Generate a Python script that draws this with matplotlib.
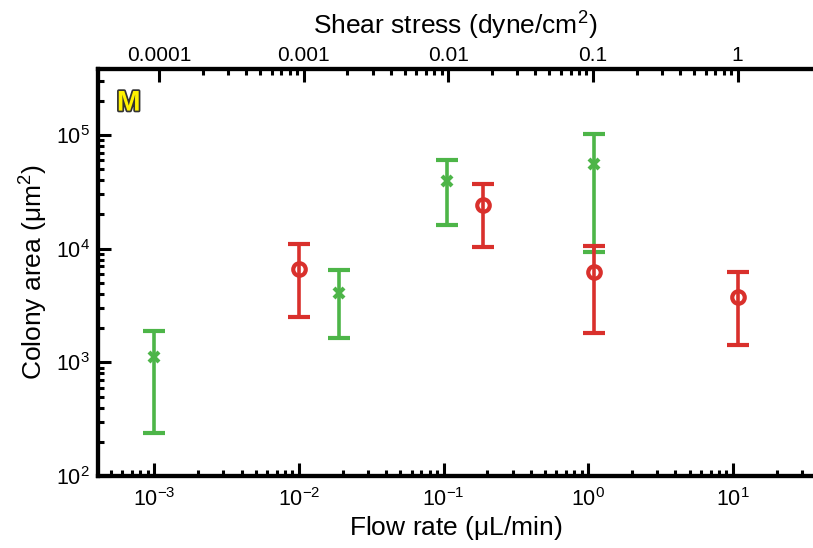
import numpy as np
import matplotlib
matplotlib.use("Agg")
import matplotlib.pyplot as plt
import matplotlib.patheffects as pe
from matplotlib.ticker import FixedLocator, NullFormatter, LogLocator

plt.rcParams['font.family'] = ['Liberation Sans', 'DejaVu Sans']

# green series (crosses)
green_flow = [1.0e-3, 0.019, 0.106, 1.09]
green_area = [1115, 4080, 39300, 55500]
green_low = [239, 1640, 16100, 9340]
green_high = [1884, 6470, 60100, 102000]

# red series (circles)
red_flow = [1.0e-2, 0.188, 1.09, 10.9]
red_area = [6610, 24200, 6220, 3750]
red_low = [2500, 10300, 1810, 1420]
red_high = [11000, 37000, 10550, 6220]

shear_per_flow = 0.093
shear_ticks = [1e-4, 1e-3, 1e-2, 1e-1, 1]
shear_labels = ["0.0001", "0.001", "0.01", "0.1", "1"]
flow_ticks = [1e-3, 1e-2, 1e-1, 1, 10]
flow_labels = [r"$\mathregular{10^{-3}}$", r"$\mathregular{10^{-2}}$",
               r"$\mathregular{10^{-1}}$", r"$\mathregular{10^{0}}$",
               r"$\mathregular{10^{1}}$"]
area_ticks = [1e2, 1e3, 1e4, 1e5]
area_labels = [r"$\mathregular{10^{2}}$", r"$\mathregular{10^{3}}$",
               r"$\mathregular{10^{4}}$", r"$\mathregular{10^{5}}$"]

green = '#4DB548'
red = '#D9302C'

fig = plt.figure(figsize=(8.13, 5.48), dpi=100)
ax = fig.add_axes([98 / 813, 1 - 476 / 548, 1 - 98 / 813, (476 - 69) / 548])

def draw(xs, ys, lo, hi, color, marker, ms, mfc):
    ys = np.array(ys)
    yerr = np.vstack([ys - np.array(lo), np.array(hi) - ys])
    ax.errorbar(xs, ys, yerr=yerr, fmt=marker, color=color, ms=ms,
                mfc=mfc, mec=color, mew=3, elinewidth=2.6,
                capsize=8, capthick=2.8, clip_on=False, zorder=3)

draw(green_flow, green_area, green_low, green_high, green, 'x', 6.5, green)
draw(red_flow, red_area, red_low, red_high, red, 'o', 9, 'none')

ax.set_xscale('log')
ax.set_yscale('log')
ax.set_xlim(4.07e-4, 35.7)
ax.set_ylim(1e2, 3.8e5)

for side in ['left', 'bottom', 'top']:
    ax.spines[side].set_linewidth(3)
ax.spines['right'].set_visible(False)

ax.xaxis.set_major_locator(FixedLocator(flow_ticks))
ax.set_xticklabels(flow_labels)
ax.xaxis.set_minor_locator(LogLocator(base=10, subs=np.arange(2, 10)))
ax.xaxis.set_minor_formatter(NullFormatter())
ax.yaxis.set_major_locator(FixedLocator(area_ticks))
ax.set_yticklabels(area_labels)
ax.yaxis.set_minor_locator(LogLocator(base=10, subs=np.arange(2, 10)))
ax.yaxis.set_minor_formatter(NullFormatter())
ax.tick_params(which='major', direction='in', length=9.5, width=2.2,
               labelsize=15.5, pad=9, top=False, right=False)
ax.tick_params(which='minor', direction='in', length=4.5, width=2.2,
               top=False, right=False)
ax.tick_params(axis='y', which='major', pad=6)

ax.set_xlabel(r"Flow rate ($\mathregular{\mu}$L/min)", fontsize=19, labelpad=2)
ax.set_ylabel(r"Colony area ($\mathregular{\mu m^2}$)", fontsize=19, labelpad=4)

# top axis: shear stress
ax2 = ax.twiny()
ax2.set_xscale('log')
ax2.set_xlim(4.07e-4 * shear_per_flow, 35.7 * shear_per_flow)
ax2.xaxis.set_major_locator(FixedLocator(shear_ticks))
ax2.set_xticklabels(shear_labels)
minors = [m * d for d in [1e-4, 1e-3, 1e-2, 1e-1] for m in range(2, 10)]
ax2.xaxis.set_minor_locator(FixedLocator(minors))
ax2.xaxis.set_minor_formatter(NullFormatter())
ax2.tick_params(which='major', direction='in', length=9.5, width=2.2,
                labelsize=15, pad=3)
ax2.tick_params(which='minor', direction='in', length=4.5, width=2.2)
ax2.set_xlabel(r"Shear stress (dyne/cm$\mathregular{^2}$)", fontsize=19, labelpad=8)
ax2.spines['right'].set_visible(False)
for side in ['left', 'bottom', 'top']:
    ax2.spines[side].set_linewidth(3)

ax.text(0.043, 0.915, "M", transform=ax.transAxes, fontsize=20.5,
        fontweight='bold', color='#FFF200', ha='center', va='center',
        path_effects=[pe.withStroke(linewidth=2.5, foreground='#333333')])

fig.savefig("out.png", dpi=100)
